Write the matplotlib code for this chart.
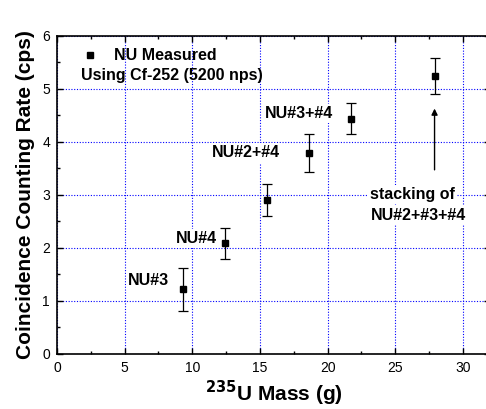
import matplotlib
matplotlib.use("Agg")
import matplotlib.pyplot as plt
from matplotlib.ticker import MultipleLocator

# data
mass = [9.3, 12.45, 15.5, 18.6, 21.7, 27.9]
rate = [1.22, 2.09, 2.90, 3.79, 4.44, 5.25]
err = [0.40, 0.29, 0.30, 0.36, 0.29, 0.34]

labels = ["NU#3", "NU#4", "NU#2+#4", "NU#3+#4"]
label_x = [6.77, 10.33, 13.95, 17.86]
label_y = [1.39, 2.18, 3.79, 4.54]

plt.rcParams['font.family'] = ['Liberation Sans', 'DejaVu Sans']

fig = plt.figure(figsize=(4.86, 4.09), dpi=100)
ax = fig.add_axes([0.1173, 0.1345, 0.891, 0.778])

ax.errorbar(mass, rate, yerr=err, fmt='s', color='black', ms=4.5,
            ecolor='black', elinewidth=0.9, capsize=3.5, capthick=0.9, zorder=5)

ax.set_xlim(0, 32)
ax.set_ylim(0, 6)
ax.xaxis.set_major_locator(MultipleLocator(5))
ax.xaxis.set_minor_locator(MultipleLocator(2.5))
ax.yaxis.set_major_locator(MultipleLocator(1))
ax.yaxis.set_minor_locator(MultipleLocator(0.5))
ax.tick_params(which='both', direction='in', top=True, right=True, labelsize=10)
ax.tick_params(which='major', length=4.5, width=1, pad=5)
ax.tick_params(which='minor', length=2.5, width=1)
for s in ax.spines.values():
    s.set_linewidth(1.2)

ax.grid(True, which='major', color='blue', linestyle=(0, (1, 1.5)), linewidth=0.8)
ax.set_axisbelow(True)

ax.set_xlabel(r'$\mathbf{^{235}}$U Mass (g)', fontsize=15, fontweight='bold', labelpad=2.5)
ax.set_ylabel('Coincidence Counting Rate (cps)', fontsize=15, fontweight='bold', labelpad=5)

box = dict(facecolor='white', edgecolor='none', pad=1.5)
fs = 11.5
for t, x, y in zip(labels, label_x, label_y):
    ax.text(x, y, t, fontsize=fs, fontweight='bold', ha='center', va='center', bbox=box, zorder=3)

ax.text(26.3, 3.0, 'stacking of', fontsize=fs, fontweight='bold', ha='center', va='center', bbox=box, zorder=3)
ax.text(26.7, 2.61, 'NU#2+#3+#4', fontsize=fs, fontweight='bold', ha='center', va='center', bbox=box, zorder=3)
ax.annotate('', xy=(27.9, 4.68), xytext=(27.9, 3.42),
            arrowprops=dict(arrowstyle='-|>', color='black', lw=1, mutation_scale=9))

# legend drawn by hand to match the original
ax.plot([2.44], [5.63], 's', color='black', ms=4.5)
ax.text(4.2, 5.63, 'NU Measured', fontsize=fs, fontweight='bold', va='center')
ax.text(1.8, 5.26, 'Using Cf-252 (5200 nps)', fontsize=fs, fontweight='bold', va='center')

fig.savefig('out.png', dpi=100)
